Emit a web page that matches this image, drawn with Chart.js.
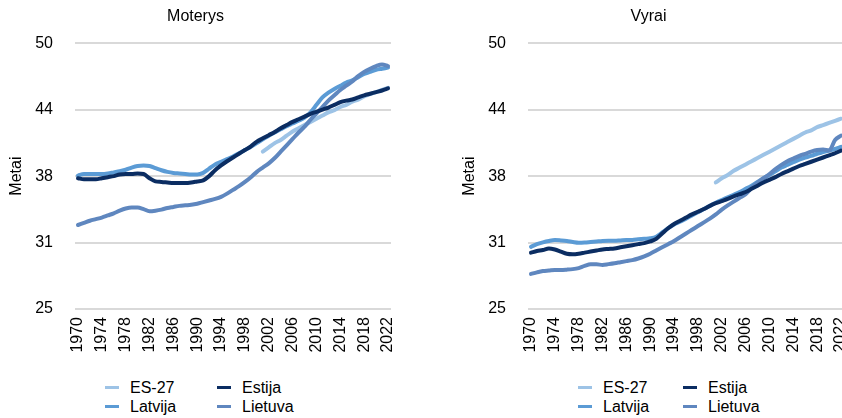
<!DOCTYPE html>
<html>
<head>
<meta charset="utf-8">
<script src="https://cdn.jsdelivr.net/npm/chart.js@4.4.1/dist/chart.umd.min.js"></script>
<style>
  html, body { margin: 0; padding: 0; background: #fff; }
  #page { position: relative; width: 842px; height: 418px; overflow: hidden; font-family: "Liberation Sans", Arial, sans-serif; }
  .panel { position: absolute; top: 0; width: 421px; height: 360px; }
  .legend { position: absolute; font-size: 16px; color: #000; }
  .legend .item { position: absolute; white-space: nowrap; height: 19px; line-height: 19px; }
  .legend .swatch { position: absolute; left: 0; top: 8px; width: 14px; height: 3px; }
  .legend .label { position: absolute; left: 25px; top: 0; }
</style>
</head>
<body>
<div id="page">
  <div class="panel" style="left:0"><canvas id="moterys"></canvas></div>
  <div class="panel" style="left:453px"><canvas id="vyrai"></canvas></div>
  <div class="legend" id="legend-moterys" style="left:105px; top:378px"></div>
  <div class="legend" id="legend-vyrai" style="left:578px; top:378px"></div>
</div>
<script>
  const years = [
    '1970', '1971', '1972', '1973', '1974', '1975', '1976', '1977', '1978', '1979',
    '1980', '1981', '1982', '1983', '1984', '1985', '1986', '1987', '1988', '1989',
    '1990', '1991', '1992', '1993', '1994', '1995', '1996', '1997', '1998', '1999',
    '2000', '2001', '2002', '2003', '2004', '2005', '2006', '2007', '2008', '2009',
    '2010', '2011', '2012', '2013', '2014', '2015', '2016', '2017', '2018', '2019',
    '2020', '2021', '2022',
  ];

  const yTicks = [25, 31.25, 37.5, 43.75, 50];

  // Moterys
  const es27Moterys = [
    null, null, null, null, null, null, null, null, null, null,
    null, null, null, null, null, null, null, null, null, null,
    null, null, null, null, null, null, null, null, null, null,
    null, 39.8, 40.2, 40.6, 40.9, 41.3, 41.7, 42.0, 42.3, 42.6,
    42.9, 43.2, 43.5, 43.7, 44.0, 44.2, 44.5, 44.7, 45.0, 45.2,
    45.4, 45.6, 45.8,
  ];
  const estijaMoterys = [
    37.3, 37.2, 37.2, 37.2, 37.3, 37.4, 37.5, 37.65, 37.7, 37.7,
    37.75, 37.7, 37.3, 37.0, 36.95, 36.9, 36.85, 36.85, 36.85, 36.9,
    37.0, 37.1, 37.5, 38.05, 38.5, 38.9, 39.25, 39.6, 39.95, 40.3,
    40.75, 41.05, 41.35, 41.65, 42.0, 42.3, 42.6, 42.85, 43.1, 43.35,
    43.55, 43.75, 43.95, 44.2, 44.45, 44.6, 44.7, 44.9, 45.1, 45.25,
    45.4, 45.55, 45.75,
  ];
  const latvijaMoterys = [
    37.55, 37.7, 37.7, 37.7, 37.7, 37.75, 37.85, 37.95, 38.1, 38.3,
    38.45, 38.5, 38.45, 38.25, 38.05, 37.9, 37.8, 37.75, 37.7, 37.65,
    37.65, 37.8, 38.2, 38.6, 38.85, 39.1, 39.35, 39.65, 39.95, 40.25,
    40.6, 40.95, 41.3, 41.6, 41.9, 42.2, 42.45, 42.7, 43.0, 43.5,
    44.2, 44.9, 45.35, 45.7, 46.0, 46.3, 46.5, 46.8, 47.1, 47.3,
    47.5, 47.6, 47.7,
  ];
  const lietuvaMoterys = [
    32.9, 33.1, 33.3, 33.45, 33.6, 33.8, 34.0, 34.25, 34.45, 34.55,
    34.55, 34.4, 34.2, 34.25, 34.35, 34.5, 34.6, 34.7, 34.75, 34.8,
    34.9, 35.05, 35.2, 35.35, 35.55, 35.85, 36.2, 36.55, 36.95, 37.4,
    37.9, 38.3, 38.7, 39.2, 39.8, 40.4, 41.0, 41.6, 42.15, 42.8,
    43.4, 44.0, 44.6, 45.1, 45.6, 46.0, 46.4, 46.9, 47.3, 47.6,
    47.85, 48.0, 47.85,
  ];

  // Vyrai
  const es27Vyrai = [
    null, null, null, null, null, null, null, null, null, null,
    null, null, null, null, null, null, null, null, null, null,
    null, null, null, null, null, null, null, null, null, null,
    null, 36.9, 37.3, 37.6, 38.0, 38.3, 38.6, 38.9, 39.2, 39.5,
    39.8, 40.1, 40.4, 40.7, 41.0, 41.3, 41.6, 41.8, 42.1, 42.3,
    42.5, 42.7, 42.9,
  ];
  const estijaVyrai = [
    30.3, 30.45, 30.55, 30.7, 30.6, 30.4, 30.2, 30.15, 30.2, 30.3,
    30.4, 30.5, 30.6, 30.65, 30.7, 30.8, 30.9, 31.0, 31.1, 31.2,
    31.35, 31.6, 32.1, 32.6, 33.0, 33.3, 33.6, 33.9, 34.15, 34.4,
    34.7, 34.95, 35.15, 35.35, 35.6, 35.8, 36.0, 36.3, 36.6, 36.9,
    37.15, 37.4, 37.7, 37.95, 38.2, 38.45, 38.65, 38.85, 39.05, 39.25,
    39.45, 39.65, 39.9,
  ];
  const latvijaVyrai = [
    30.85, 31.1, 31.27, 31.4, 31.48, 31.45, 31.4, 31.3, 31.23, 31.25,
    31.3, 31.35, 31.4, 31.42, 31.42, 31.45, 31.48, 31.5, 31.55, 31.6,
    31.65, 31.8, 32.2, 32.6, 32.95, 33.2, 33.5, 33.8, 34.1, 34.4,
    34.7, 35.0, 35.25, 35.5, 35.75, 36.0, 36.3, 36.6, 36.95, 37.3,
    37.6, 37.95, 38.3, 38.55, 38.8, 39.05, 39.25, 39.4, 39.6, 39.75,
    39.9, 40.05, 40.25,
  ];
  const lietuvaVyrai = [
    28.3, 28.45, 28.57, 28.62, 28.67, 28.67, 28.7, 28.75, 28.85, 29.05,
    29.2, 29.2, 29.15, 29.22, 29.3, 29.4, 29.5, 29.6, 29.75, 29.95,
    30.2, 30.5, 30.8, 31.1, 31.4, 31.75, 32.1, 32.45, 32.8, 33.15,
    33.5, 33.9, 34.35, 34.75, 35.1, 35.45, 35.8, 36.4, 36.9, 37.3,
    37.7, 38.15, 38.55, 38.9, 39.15, 39.4, 39.6, 39.8, 39.95, 40.0,
    39.9, 40.9, 41.3,
  ];

  const colors = {
    es27: '#9dc3e6',
    estija: '#0b2d62',
    latvija: '#5b9bd5',
    lietuva: '#5f87bf',
  };

  const legendItems = [
    { label: 'ES-27', color: colors.es27, col: 0, row: 0 },
    { label: 'Estija', color: colors.estija, col: 1, row: 0 },
    { label: 'Latvija', color: colors.latvija, col: 0, row: 1 },
    { label: 'Lietuva', color: colors.lietuva, col: 1, row: 1 },
  ];

  function buildLegend(el, colOffset) {
    el.innerHTML = legendItems
      .map((item) => `<div class="item" style="left:${item.col * colOffset}px; top:${item.row * 19}px">`
        + `<span class="swatch" style="background:${item.color}"></span>`
        + `<span class="label">${item.label}</span></div>`)
      .join('');
  }

  function line(label, data, color, order) {
    return {
      label,
      data,
      borderColor: color,
      backgroundColor: color,
      borderWidth: 4,
      pointRadius: 0,
      pointHoverRadius: 0,
      cubicInterpolationMode: 'monotone',
      borderCapStyle: 'round',
      borderJoinStyle: 'round',
      spanGaps: false,
      order,
    };
  }

  function makeChart(canvasId, title, es27, estija, latvija, lietuva) {
    const font = { family: '"Liberation Sans", Arial, sans-serif', size: 16 };
    return new Chart(document.getElementById(canvasId), {
      type: 'line',
      data: {
        labels: years,
        datasets: [
          line('ES-27', es27, colors.es27, 3),
          line('Latvija', latvija, colors.latvija, 2),
          line('Lietuva', lietuva, colors.lietuva, 1),
          line('Estija', estija, colors.estija, 0),
        ],
      },
      options: {
        responsive: true,
        maintainAspectRatio: false,
        animation: false,
        layout: { padding: { top: 7, right: 30, left: 0, bottom: 0 } },
        plugins: {
          legend: { display: false },
          tooltip: { enabled: false },
          title: {
            display: true,
            text: title,
            color: '#000',
            font: { ...font, weight: 'normal' },
            padding: { top: 0, bottom: 17 },
          },
        },
        scales: {
          x: {
            type: 'category',
            offset: true,
            grid: { display: false, drawTicks: false },
            border: { display: false },
            ticks: {
              autoSkip: false,
              minRotation: 90,
              maxRotation: 90,
              padding: 8,
              color: '#000',
              font,
              callback: (value, index) => (index % 4 === 0 ? years[index] : null),
            },
            afterFit: (scale) => { scale.height = 51; },
          },
          y: {
            min: 25,
            max: 50,
            afterBuildTicks: (scale) => { scale.ticks = yTicks.map((value) => ({ value })); },
            grid: { color: '#d9d9d9', lineWidth: 2, drawTicks: false },
            border: { display: false },
            ticks: {
              padding: 22,
              color: '#000',
              font,
              callback: (value) => Math.round(value),
            },
            title: {
              display: true,
              text: 'Metai',
              color: '#000',
              font,
              padding: { top: 7, bottom: 0 },
            },
            afterFit: (scale) => { scale.width = 75; },
          },
        },
      },
    });
  }

  makeChart('moterys', 'Moterys', es27Moterys, estijaMoterys, latvijaMoterys, lietuvaMoterys);
  makeChart('vyrai', 'Vyrai', es27Vyrai, estijaVyrai, latvijaVyrai, lietuvaVyrai);
  buildLegend(document.getElementById('legend-moterys'), 112);
  buildLegend(document.getElementById('legend-vyrai'), 105);
</script>
</body>
</html>
